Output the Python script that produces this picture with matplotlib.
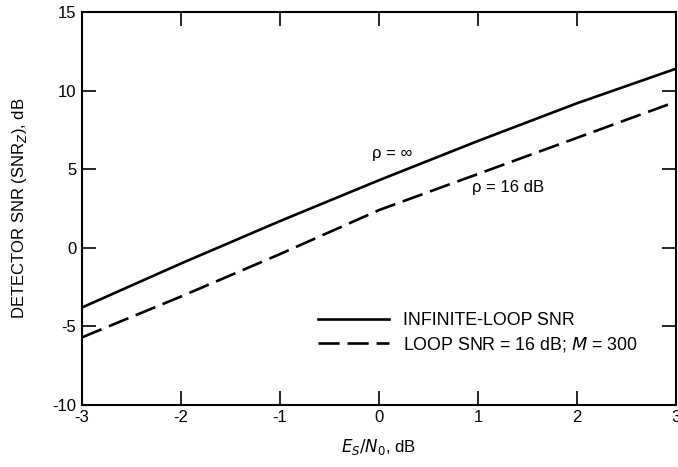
import numpy as np
import matplotlib
matplotlib.use("Agg")
import matplotlib.pyplot as plt

plt.rcParams.update({
    "font.family": ["Liberation Sans", "DejaVu Sans"],
    "font.size": 12,
    "axes.unicode_minus": False,
})

# Es/N0, dB
es_n0 = [-3, -2, -1, 0, 1, 2, 3]
# detector SNR, dB
snr_inf = [-3.8, -1.0, 1.7, 4.3, 6.8, 9.2, 11.4]
snr_16db = [-5.7, -3.1, -0.4, 2.4, 4.7, 7.0, 9.3]

xticks = [-3, -2, -1, 0, 1, 2, 3]
yticks = [-10, -5, 0, 5, 10, 15]

fig = plt.figure(figsize=(6.78, 4.67), dpi=100)
ax = fig.add_axes([0.121, 0.133, 0.876, 0.841])

ax.plot(es_n0, snr_inf, color="black", lw=1.9, label="INFINITE-LOOP SNR")
ax.plot(es_n0, snr_16db, color="black", lw=1.9, dashes=(8, 3),
        label="LOOP SNR = 16 dB; $M$ = 300")

ax.set_xlim(-3, 3)
ax.set_ylim(-10, 15)
ax.set_xticks(xticks)
ax.set_xticklabels([str(t) for t in xticks])
ax.set_yticks(yticks)
ax.set_yticklabels([str(t) for t in yticks])
ax.tick_params(direction="in", length=10, width=1.2, top=True, right=True,
               labeltop=False, labelright=False, pad=4)
for s in ax.spines.values():
    s.set_linewidth(1.5)

ax.set_xlabel("$E_S/N_0$, dB", labelpad=8)
ax.set_ylabel("DETECTOR SNR (SNR$_Z$), dB", labelpad=17)

ax.text(-0.07, 6.0, r"ρ = ∞", fontsize=12, ha="left", va="center")
ax.text(0.94, 3.85, "ρ = 16 dB", fontsize=12, ha="left", va="center")

ax.legend(loc="lower left", bbox_to_anchor=(0.37, 0.09), frameon=False,
          handlelength=4.0, handletextpad=0.8, labelspacing=0.3, fontsize=12.8)

fig.savefig("out.png", dpi=100)
